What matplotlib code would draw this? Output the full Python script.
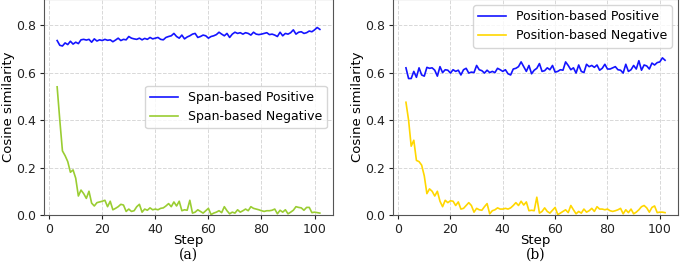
import matplotlib
matplotlib.use("Agg")
import matplotlib.pyplot as plt
import numpy as np

steps = np.arange(3, 103)

span_pos = [
    0.735, 0.715, 0.712, 0.725, 0.718, 0.732, 0.720, 0.728, 0.722, 0.738,
    0.740, 0.737, 0.740, 0.728, 0.742, 0.733, 0.738, 0.735, 0.740, 0.736,
    0.738, 0.730, 0.737, 0.745, 0.735, 0.740, 0.738, 0.752, 0.745, 0.742,
    0.740, 0.745, 0.738, 0.744, 0.740, 0.748, 0.742, 0.745, 0.748, 0.740,
    0.738, 0.748, 0.752, 0.755, 0.765, 0.752, 0.745, 0.758, 0.742, 0.750,
    0.755, 0.762, 0.765, 0.748, 0.752, 0.758, 0.755, 0.745, 0.752, 0.755,
    0.760, 0.770, 0.762, 0.755, 0.765, 0.748, 0.762, 0.770, 0.765, 0.768,
    0.762, 0.768, 0.765, 0.758, 0.770, 0.762, 0.760, 0.762, 0.765, 0.768,
    0.760, 0.762, 0.758, 0.752, 0.770, 0.755, 0.765, 0.762, 0.768, 0.780,
    0.762, 0.770, 0.772, 0.765, 0.768, 0.775, 0.772, 0.780, 0.790, 0.782,
]
span_neg = [
    0.540, 0.400, 0.270, 0.250, 0.225, 0.180, 0.190, 0.155, 0.080, 0.105,
    0.090, 0.070, 0.100, 0.050, 0.038, 0.052, 0.055, 0.058, 0.062, 0.035,
    0.058, 0.022, 0.028, 0.035, 0.045, 0.042, 0.015, 0.025, 0.015, 0.018,
    0.035, 0.045, 0.012, 0.025, 0.020, 0.030, 0.022, 0.025, 0.022, 0.028,
    0.030, 0.038, 0.048, 0.035, 0.055, 0.038, 0.058, 0.018, 0.022, 0.020,
    0.062, 0.008, 0.012, 0.022, 0.015, 0.008, 0.018, 0.028, 0.002, 0.008,
    0.012, 0.018, 0.010, 0.035, 0.018, 0.005, 0.012, 0.008, 0.022, 0.012,
    0.018, 0.025, 0.018, 0.035, 0.028, 0.025, 0.022, 0.018, 0.015, 0.018,
    0.018, 0.020, 0.025, 0.005, 0.020, 0.012, 0.022, 0.005, 0.012, 0.020,
    0.035, 0.032, 0.030, 0.020, 0.032, 0.032, 0.010, 0.012, 0.010, 0.008,
]
pos_pos = [
    0.620, 0.575, 0.575, 0.605, 0.580, 0.620, 0.590, 0.585, 0.622, 0.618,
    0.620, 0.610, 0.585, 0.625, 0.600, 0.612, 0.610, 0.598, 0.612, 0.605,
    0.610, 0.590, 0.612, 0.618, 0.598, 0.602, 0.600, 0.630, 0.612, 0.608,
    0.598, 0.610, 0.600, 0.605, 0.600, 0.618, 0.612, 0.605, 0.612, 0.595,
    0.590, 0.615, 0.618, 0.625, 0.645, 0.625, 0.605, 0.630, 0.595, 0.610,
    0.618, 0.638, 0.605, 0.608, 0.620, 0.612, 0.630, 0.602, 0.605, 0.612,
    0.610, 0.645, 0.630, 0.612, 0.620, 0.598, 0.632, 0.605, 0.600, 0.635,
    0.625, 0.630, 0.622, 0.632, 0.610, 0.618, 0.635, 0.615, 0.615, 0.620,
    0.625, 0.612, 0.610, 0.598, 0.635, 0.605, 0.612, 0.630, 0.615, 0.650,
    0.610, 0.632, 0.628, 0.615, 0.640, 0.632, 0.642, 0.645, 0.662, 0.652,
]
pos_neg = [
    0.475, 0.400, 0.290, 0.315, 0.230, 0.225, 0.210, 0.165, 0.090, 0.110,
    0.100, 0.080, 0.100, 0.058, 0.035, 0.062, 0.052, 0.060, 0.058, 0.040,
    0.055, 0.025, 0.028, 0.040, 0.052, 0.040, 0.012, 0.028, 0.022, 0.020,
    0.035, 0.048, 0.005, 0.018, 0.022, 0.030, 0.025, 0.025, 0.028, 0.025,
    0.030, 0.040, 0.052, 0.040, 0.058, 0.042, 0.055, 0.018, 0.020, 0.018,
    0.075, 0.008, 0.015, 0.030, 0.015, 0.008, 0.020, 0.032, 0.002, 0.008,
    0.015, 0.022, 0.010, 0.040, 0.022, 0.005, 0.015, 0.008, 0.025, 0.012,
    0.018, 0.028, 0.015, 0.035, 0.025, 0.025, 0.022, 0.025, 0.018, 0.015,
    0.018, 0.022, 0.028, 0.005, 0.022, 0.010, 0.025, 0.005, 0.012, 0.022,
    0.035, 0.040, 0.030, 0.012, 0.032, 0.038, 0.010, 0.012, 0.012, 0.010,
]

fig = plt.figure(figsize=(6.85, 2.67), dpi=100)
ax1 = fig.add_axes([44 / 685, 52 / 267, 289 / 685, 216 / 267])
ax2 = fig.add_axes([393 / 685, 52 / 267, 285 / 685, 216 / 267])

panels = [
    (ax1, span_pos, span_neg, "Span-based", "yellowgreen", "center right", "(a)"),
    (ax2, pos_pos, pos_neg, "Position-based", "gold", "upper right", "(b)"),
]
for ax, pos, neg, name, neg_color, loc, tag in panels:
    ax.plot(steps, pos, color="#1414ff", lw=1.2, label=name + " Positive")
    ax.plot(steps, neg, color=neg_color, lw=1.2, label=name + " Negative")
    ax.set_ylim(0, 0.91)
    ax.set_xticks([0, 20, 40, 60, 80, 100])
    ax.set_yticks([0.0, 0.2, 0.4, 0.6, 0.8])
    ax.grid(True, ls="--", color="#d8d8d8", lw=0.7)
    ax.tick_params(labelsize=9, colors="#222222", length=3, pad=2.5)
    for sp in ax.spines.values():
        sp.set_color("#555555")
    ax.set_xlabel("Step", fontsize=9.5, labelpad=-1)
    ax.set_ylabel("Cosine similarity", fontsize=9.5, labelpad=1)
    ax.legend(loc=loc, fontsize=9, handlelength=2.2)
    bb = ax.get_position()
    fig.text(bb.x0 + bb.width / 2, 12 / 267, tag, ha="center", va="center",
             fontsize=10, family="DejaVu Serif")

fig.savefig("out.png", dpi=100)
